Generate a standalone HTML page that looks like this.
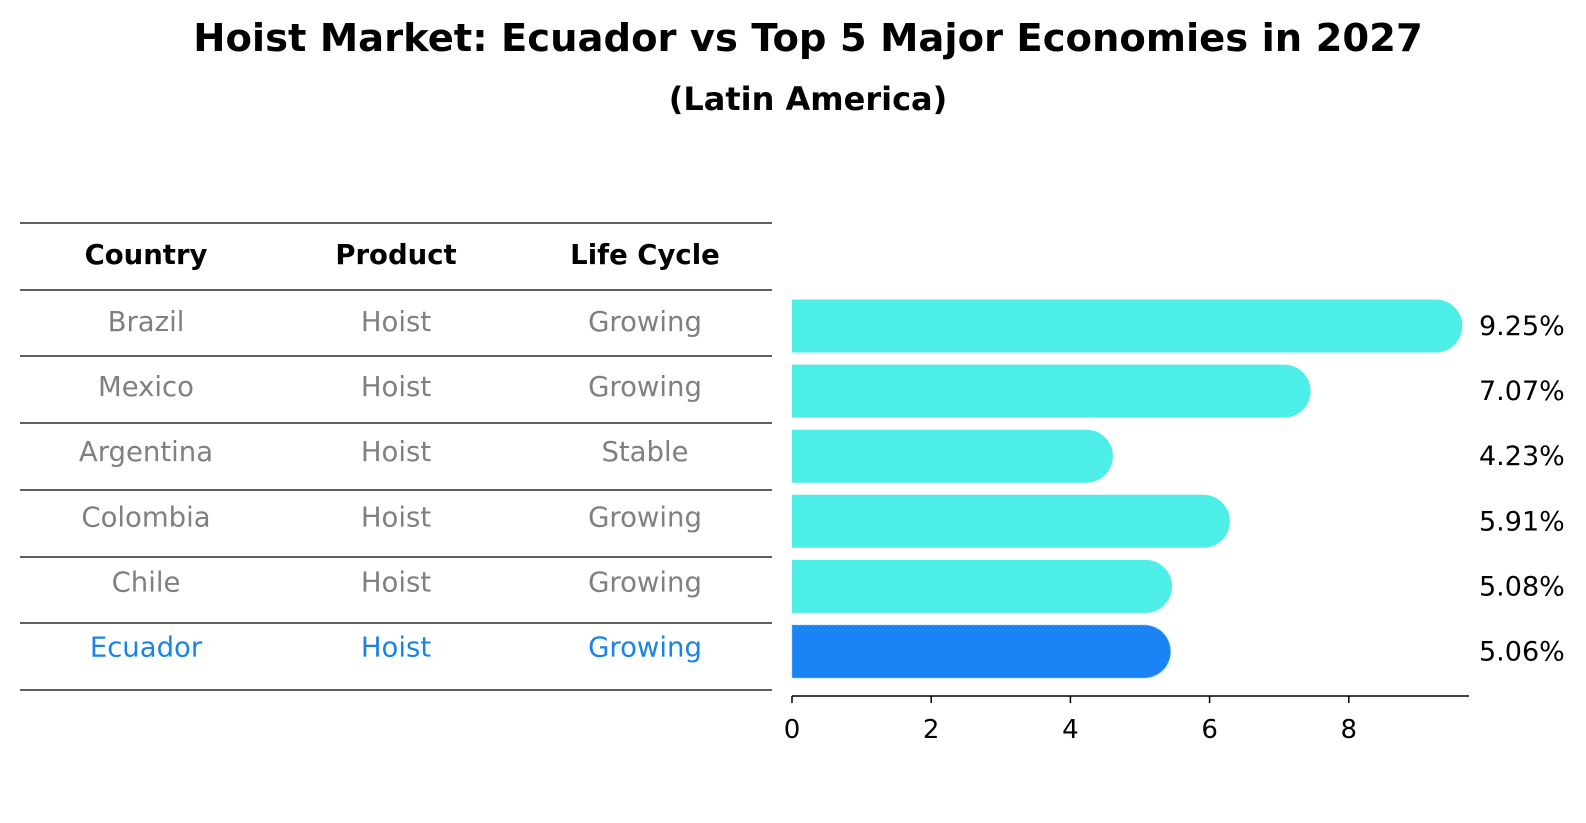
<!DOCTYPE html>
<html><head><meta charset="utf-8"><style>
body{margin:0;background:#fff;}
svg{display:block;font-family:"DejaVu Sans","Liberation Sans",sans-serif;}
</style></head><body>
<svg id="chart" width="1586" height="823" viewBox="0 0 1586 823">
<text x="808" y="51" text-anchor="middle" font-size="38.5" font-weight="bold">Hoist Market: Ecuador vs Top 5 Major Economies in 2027</text>
<text x="808" y="110" text-anchor="middle" font-size="32" font-weight="bold">(Latin America)</text>
<g id="table"></g>
<g id="bars"></g>
</svg>
<script>
const countries=["Brazil","Mexico","Argentina","Colombia","Chile","Ecuador"];
const products=["Hoist","Hoist","Hoist","Hoist","Hoist","Hoist"];
const lifecycles=["Growing","Growing","Stable","Growing","Growing","Growing"];
const values=[9.25,7.07,4.23,5.91,5.08,5.06];
const tickValues=[0,2,4,6,8];
const NS="http://www.w3.org/2000/svg";
function mk(tag,attrs,parent){const e=document.createElementNS(NS,tag);for(const k in attrs)e.setAttribute(k,attrs[k]);parent.appendChild(e);return e;}
const table=document.getElementById('table');
const bars=document.getElementById('bars');
const lineYs=[223,290,356,423,490,557,623,690];
const colX=[146,396,645];
lineYs.forEach(y=>{const l=mk('line',{x1:20,x2:772,y1:y,y2:y,stroke:'#000','stroke-width':1.2},table);

});
["Country","Product","Life Cycle"].forEach((h,i)=>{const t=mk('text',{x:colX[i],y:264,'text-anchor':'middle','font-size':27.5,'font-weight':'bold'},table);t.textContent=h;

});
const x0=792,unit=69.6;
function xs(v){return x0+v*unit;}
const rowY=i=>326+i*65.1;
countries.forEach((c,i)=>{
 const hi=i===countries.length-1;
 const col=hi?'#1a84e6':'#808080';
 [c,products[i],lifecycles[i]].forEach((s,j)=>{const t=mk('text',{x:colX[j],y:rowY(i)+5,'text-anchor':'middle','font-size':27.5,fill:col},table);t.textContent=s;
 
 });
 const h=53,r=26.5,yc=rowY(i),xe=xs(values[i]);
 const p=mk('path',{d:`M${x0},${yc-h/2} H${xe} A${r},${h/2} 0 0 1 ${xe},${yc+h/2} H${x0} Z`,fill:hi?'#1a84f5':'#4deee8'},bars);
 if(hi){p.setAttribute('stroke','#7fc4ff');p.setAttribute('stroke-dasharray','2 2');p.setAttribute('stroke-width','1');}
 
 
 const t=mk('text',{x:1479,y:yc+9,'font-size':27},bars);t.textContent=values[i].toFixed(2)+'%';
 
 
});
const ax=mk('line',{x1:x0,x2:1469,y1:696,y2:696,stroke:'#000','stroke-width':1.5},bars);


tickValues.forEach(v=>{const l=mk('line',{x1:xs(v),x2:xs(v),y1:696,y2:703,stroke:'#000','stroke-width':1.5},bars);


const t=mk('text',{x:xs(v),y:738,'text-anchor':'middle','font-size':26},bars);t.textContent=v;

});
</script>
</body></html>
